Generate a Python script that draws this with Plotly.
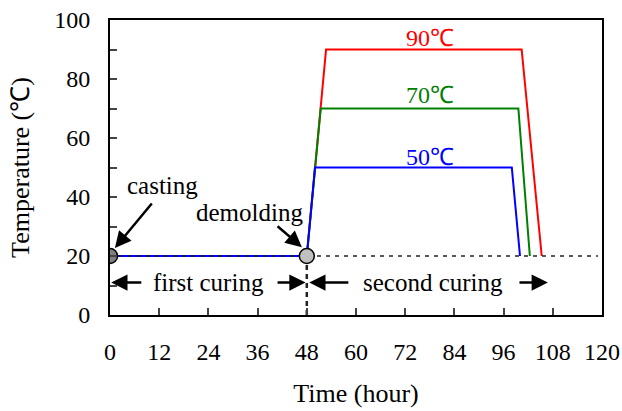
import plotly.graph_objects as go

# Data
red_t = [0, 48, 52.7, 100.4, 105.3]
red_T = [20, 20, 90, 90, 20]
green_t = [0, 48, 51.4, 99.6, 102.4]
green_T = [20, 20, 70, 70, 20]
blue_t = [0, 48, 50, 98, 100]
blue_T = [20, 20, 50, 50, 20]
base_t = [0, 119]
base_T = [20, 20]
event_t = [0, 48]
event_T = [20, 20]
event_fill = ["#808080", "#c0c0c0"]
x_ticks = [0, 12, 24, 36, 48, 60, 72, 84, 96, 108, 120]
y_ticks = [0, 20, 40, 60, 80, 100]

FONT = "Liberation Serif, Times New Roman, serif"
FS = 24
AFS = 25

fig = go.Figure()
fig.add_trace(go.Scatter(x=red_t, y=red_T, mode="lines", line=dict(color="#ff0000", width=2)))
fig.add_trace(go.Scatter(x=green_t, y=green_T, mode="lines", line=dict(color="#008000", width=2)))
fig.add_trace(go.Scatter(x=blue_t, y=blue_T, mode="lines", line=dict(color="#0000ff", width=2)))
fig.add_trace(go.Scatter(x=base_t, y=base_T, mode="lines", line=dict(color="#222222", width=1.5, dash="4px,5px")))
fig.add_trace(go.Scatter(x=[48, 48], y=[0, 20], mode="lines", line=dict(color="#222222", width=2.5, dash="5px,4px")))
fig.add_trace(go.Scatter(x=event_t, y=event_T, mode="markers",
                         marker=dict(size=15, color=event_fill, line=dict(color="black", width=1.5))))

ann = []
def arrow(x0, y0, x1, y1):
    ann.append(dict(x=x1, y=y1, ax=x0, ay=y0, xref="x", yref="y", axref="x", ayref="y",
                    showarrow=True, arrowhead=2, arrowsize=1.3, arrowwidth=2.5, arrowcolor="black", text=""))

def label(x, y, s, color="black", size=AFS):
    ann.append(dict(x=x, y=y, xref="x", yref="y", text=s, showarrow=False,
                    font=dict(family=FONT, size=size, color=color)))

arrow(8, 11, 0.3, 11)
arrow(40.5, 11, 47.7, 11)
arrow(58.5, 11, 48.6, 11)
arrow(99.5, 11, 106.8, 11)
label(24, 11, "first curing")
label(78.8, 11, "second curing")
arrow(10.5, 38.3, 1.2, 22.7)
arrow(40.5, 30.5, 46.8, 23)
label(12.9, 44, "casting")
label(34.1, 34.6, "demolding")
label(78, 93.9, "90℃", "#ff0000", FS)
label(78, 74.6, "70℃", "#008000", FS)
label(78, 53.6, "50℃", "#0000ff", FS)

TF = dict(family=FONT, size=26, color="black")

fig.update_layout(
    width=622, height=411,
    margin=dict(l=110, r=20, t=20, b=96, autoexpand=False),
    paper_bgcolor="white", plot_bgcolor="white",
    showlegend=False,
    font=dict(family=FONT, size=FS, color="black"),
    annotations=ann,
    xaxis=dict(range=[0, 120], tickvals=x_ticks, ticks="inside", ticklen=7, tickwidth=2,
               showline=True, linewidth=2, linecolor="black", mirror=True, showgrid=False, zeroline=False,
               ticklabelstandoff=14, automargin=False,
               title=dict(text="Time (hour)", standoff=20, font=TF), tickfont=dict(size=FS)),
    yaxis=dict(range=[0, 100], tickvals=y_ticks, ticks="inside", ticklen=7, tickwidth=2,
               minor=dict(ticks="inside", ticklen=7, tickwidth=2, dtick=10, tick0=0, showgrid=False),
               showline=True, linewidth=2, linecolor="black", mirror=True, showgrid=False, zeroline=False,
               ticklabelstandoff=13, automargin=False,
               title=dict(text="Temperature (℃)", standoff=17, font=TF), tickfont=dict(size=FS)),
)
fig.write_html("out.html")
